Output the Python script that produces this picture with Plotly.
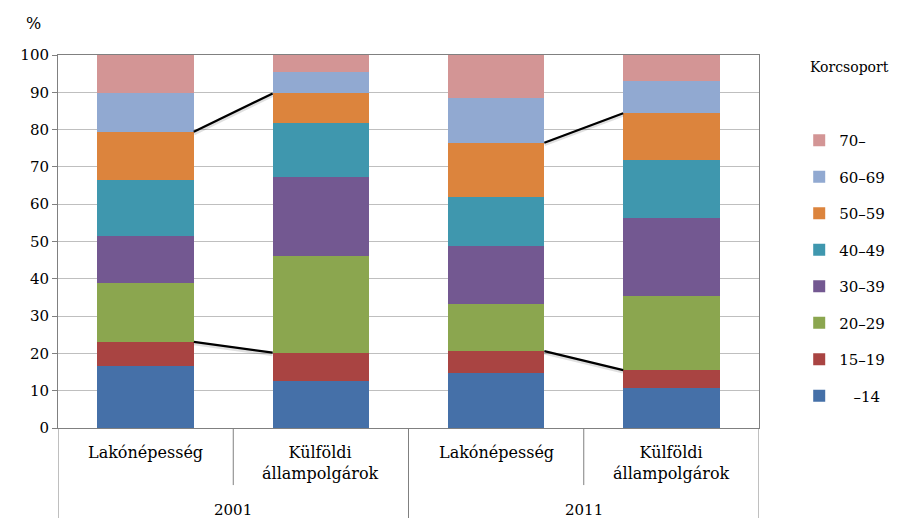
import plotly.graph_objects as go
import numpy as np

# Data
groups = ["2001", "2001", "2011", "2011"]
categories = ["Lakónépesség", "Külföldi<br>állampolgárok", "Lakónépesség", "Külföldi<br>állampolgárok"]
age_groups = ["\u00a0\u00a0\u00a0–14", "15–19", "20–29", "30–39", "40–49", "50–59", "60–69", "70–"]
v_14 = [16.7, 12.5, 14.7, 10.8]
v_15_19 = [6.4, 7.7, 5.9, 4.7]
v_20_29 = [15.9, 25.9, 12.6, 19.9]
v_30_39 = [12.5, 21.3, 15.6, 21.0]
v_40_49 = [15.0, 14.5, 13.2, 15.4]
v_50_59 = [12.9, 7.8, 14.5, 12.6]
v_60_69 = [10.5, 5.8, 11.9, 8.7]
v_70 = [10.1, 4.5, 11.6, 6.9]
series = [v_14, v_15_19, v_20_29, v_30_39, v_40_49, v_50_59, v_60_69, v_70]
colors = ["#4570A8", "#A94442", "#8BA64F", "#735891", "#3F97AE", "#DC843D", "#91A9D1", "#D39595"]

FONT = "DejaVu Serif"
W = 0.55
xpos = list(range(len(categories)))

fig = go.Figure()
for i, (name, vals, col) in enumerate(zip(age_groups, series, colors)):
    fig.add_trace(go.Bar(x=xpos, y=vals, name=name, width=W,
                         marker=dict(color=col, line=dict(width=0)),
                         legendgroup=f"g{i}", legendrank=100 - i * 10))

# series connector lines (top of 15-19 and top of 50-59)
cum = np.cumsum(np.array(series), axis=0)
for k in [1, 5]:
    for a, b in [(0, 1), (2, 3)]:
        fig.add_trace(go.Scatter(x=[a + W / 2, b - W / 2], y=[cum[k][a] - 0.4, cum[k][b] - 0.4],
                                 mode="lines", line=dict(color="rgba(0,0,0,0.12)", width=4),
                                 showlegend=False, hoverinfo="skip"))
        fig.add_trace(go.Scatter(x=[a + W / 2, b - W / 2], y=[cum[k][a], cum[k][b]],
                                 mode="lines", line=dict(color="black", width=2.2),
                                 showlegend=False, hoverinfo="skip"))

shapes = []
for xb in [0.5, 2.5]:
    shapes.append(dict(type="line", xref="x", yref="paper", x0=xb, x1=xb, y0=0, y1=-0.153,
                       line=dict(color="#808080", width=1)))
for xb in [-0.5, 1.5, 3.5]:
    shapes.append(dict(type="line", xref="x", yref="paper", x0=xb, x1=xb, y0=0, y1=-0.26,
                       line=dict(color="#808080", width=1)))

annotations = []
for x, c in zip(xpos, categories):
    annotations.append(dict(x=x, y=-0.036, xref="x", yref="paper", text=c, showarrow=False,
                            yanchor="top", font=dict(family=FONT, size=16, color="black")))
for x, g in [(0.5, groups[0]), (2.5, groups[2])]:
    annotations.append(dict(x=x, y=-0.19, xref="x", yref="paper", text=g, showarrow=False,
                            yanchor="top", font=dict(family=FONT, size=15, color="black")))
annotations.append(dict(x=-0.022, y=1.085, xref="paper", yref="paper", text="%", showarrow=False,
                        xanchor="right", yanchor="middle", font=dict(family=FONT, size=16, color="black")))
annotations.append(dict(x=1.07, y=0.968, xref="paper", yref="paper", text="Korcsoport", showarrow=False,
                        xanchor="left", yanchor="middle", font=dict(family=FONT, size=14, color="black")))

fig.update_layout(
    width=891, height=510,
    margin=dict(l=47, r=140, t=47, b=90),
    paper_bgcolor="white", plot_bgcolor="white",
    barmode="stack",
    showlegend=True,
    legend=dict(xref="container", yref="container", x=0.888, xanchor="left", y=0.7725, yanchor="top",
                traceorder="grouped", tracegroupgap=14, maxheight=460,
                font=dict(family=FONT, size=15, color="black"),
                itemwidth=30),
    xaxis=dict(range=[-0.5, 3.5], showticklabels=False, showgrid=False, zeroline=False,
               showline=True, linecolor="#808080", linewidth=1, mirror=True, ticks=""),
    yaxis=dict(range=[0, 100], dtick=10, showgrid=True, gridcolor="#BFBFBF", gridwidth=1,
               zeroline=False, showline=True, linecolor="#808080", linewidth=1, mirror=True,
               ticks="outside", ticklen=5, tickcolor="#808080",
               tickfont=dict(family=FONT, size=15, color="black")),
    shapes=shapes,
    annotations=annotations,
)

fig.write_html("out.html")
